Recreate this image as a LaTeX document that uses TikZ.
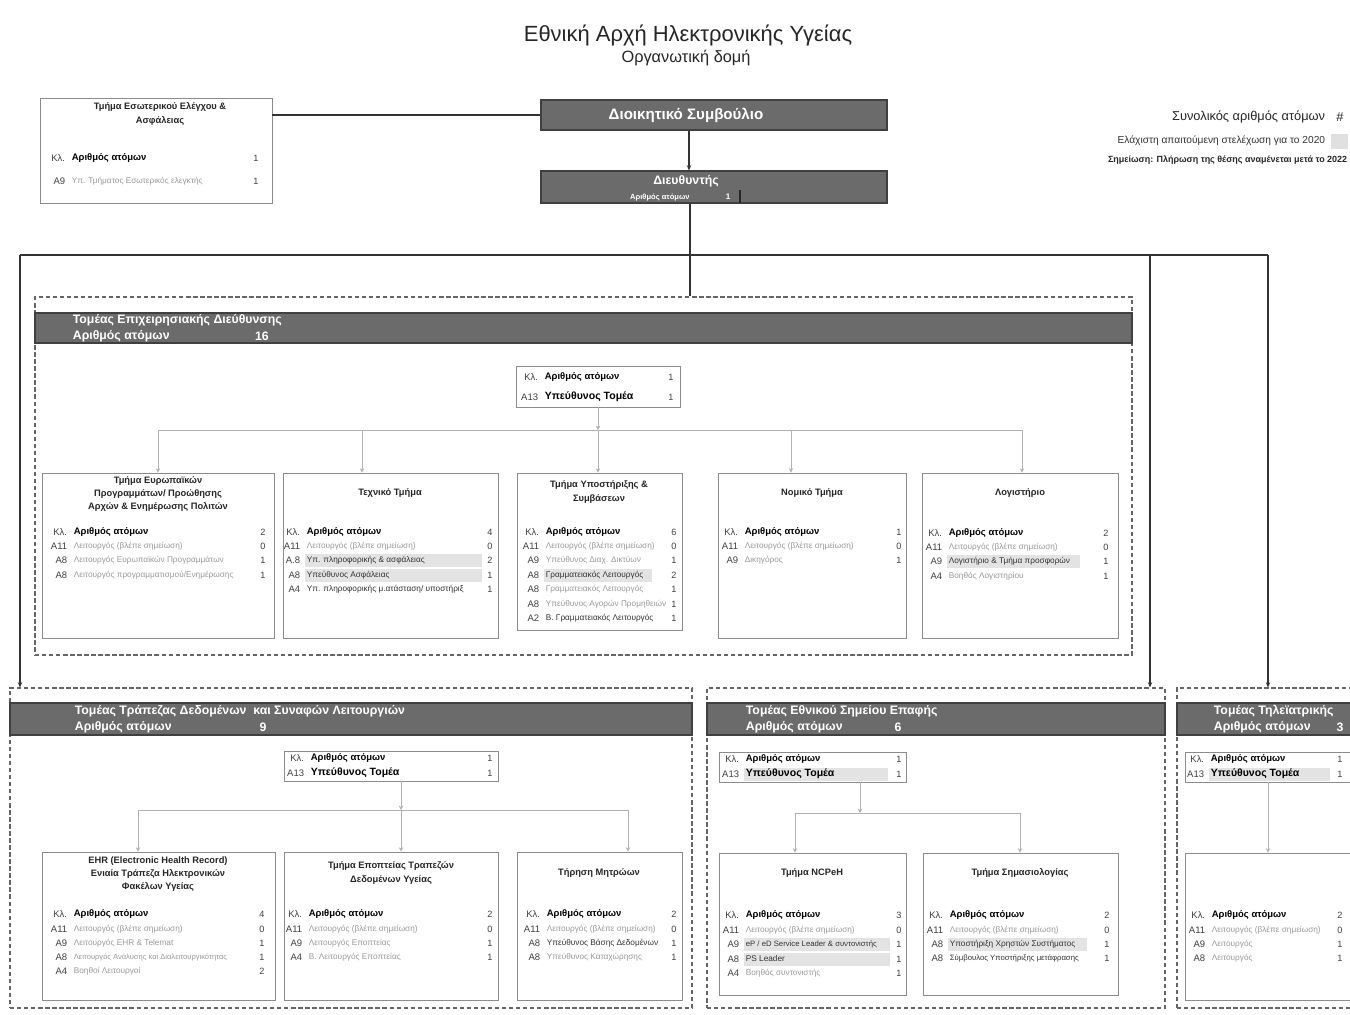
\documentclass[tikz,border=0pt]{standalone}
\usepackage{fontspec}
\setmainfont{Liberation Sans}
\usetikzlibrary{fit,arrows.meta}
\tikzset{
  box/.style={draw=black!45,line width=0.5pt,inner sep=0pt},
  cbox/.style={draw=black!45,line width=0.45pt,inner sep=0pt},
  sector/.style={draw=black!60,line width=0.6pt,dash pattern=on 2.5pt off 1.5pt,inner sep=0pt},
  bar/.style={fill=black!58,draw=black!75,line width=0.6pt,inner sep=0pt},
  kl/.style={font=\fontsize{5.4}{6}\selectfont\bfseries,text=black,inner sep=0.3pt},
  kltwo/.style={font=\fontsize{6}{7}\selectfont\bfseries,text=black,inner sep=0.3pt},
  code/.style={font=\fontsize{5.4}{6}\selectfont,text=black!75,inner sep=0.3pt},
  rf/.style={font=\fontsize{4.7}{6}\selectfont,text=black!40,inner sep=0.3pt},
  rd/.style={font=\fontsize{4.7}{6}\selectfont,text=black!80,inner sep=0.3pt},
  num/.style={font=\fontsize{5.2}{6}\selectfont,text=black!75,inner sep=0.3pt},
  btitle/.style={font=\fontsize{5.3}{7.6}\selectfont\bfseries,align=center,text=black!85,inner sep=0pt},
  htitle/.style={font=\fontsize{7}{8}\selectfont\bfseries,text=white,inner sep=0.3pt},
  conn/.style={draw=black!80,line width=0.6pt},
  connarr/.style={conn,-{Stealth[length=3pt,width=2.5pt]}},
  sub/.style={draw=black!30,line width=0.5pt},
  subarr/.style={sub,-{Stealth[length=2.5pt,width=2.5pt]}},
}
% #1 name, #2 code right x, #3 number x, #4 y, #5 code, #6 style, #7 text, #8 number
\newcommand\rrow[8]{%
  \node[code,anchor=east] (#1c) at (#2,#4) {#5};
  \node[#6,anchor=west] (#1t) at ({#2+5},#4) {#7};
  \node[num] (#1n) at (#3,#4) {#8};}
\newcommand\rshade[3]{\fill[black!11] (#1,{#3-6.5}) rectangle (#2,{#3+6.5});}
\begin{document}
\begin{tikzpicture}[x=0.02cm,y=-0.02cm]
\clip (0,0) rectangle (1350,1015);
\fill[white] (0,0) rectangle (1350,1015);

% Title
\node[font=\fontsize{12.5}{14}\selectfont,text=black!85] (title) at (688,35) {Εθνική Αρχή Ηλεκτρονικής Υγείας};
\node[font=\fontsize{9.3}{11}\selectfont,text=black!85] (subtitle) at (686,58) {Οργανωτική δομή};

% Legend
\node[font=\fontsize{7.3}{8}\selectfont,text=black!85,anchor=east,inner sep=0.3pt] (leg1) at (1326,117) {Συνολικός αριθμός ατόμων};
\node[font=\fontsize{7.3}{8}\selectfont,text=black!85,inner sep=0.3pt] (leg1b) at (1340,117) {\#};
\node[font=\fontsize{5.8}{7}\selectfont,text=black!80,anchor=east,inner sep=0.3pt] (leg2) at (1326,141) {Ελάχιστη απαιτούμενη στελέχωση για το 2020};
\node[fill=black!12,inner sep=0pt,fit={(1331,134) (1348,149)}] (leg2box) {};
\node[font=\fontsize{5.1}{6}\selectfont\bfseries,text=black!85,anchor=east,inner sep=0.3pt] (leg3) at (1348,160) {Σημείωση: Πλήρωση της θέσης αναμένεται μετά το 2022};

% Board and director
\node[bar,fit={(541,100) (887,130)}] (board) {};
\node[font=\fontsize{8.6}{10}\selectfont\bfseries,text=white] (boardt) at (686,115) {Διοικητικό Συμβούλιο};
\node[bar,fit={(541,171) (887,203)}] (dir) {};
\node[font=\fontsize{7}{8}\selectfont\bfseries,text=white] (dirt) at (686,181) {Διευθυντής};
\node[font=\fontsize{4.3}{5}\selectfont\bfseries,text=white,anchor=west] (dirn) at (624,197) {Αριθμός ατόμων};
\node[font=\fontsize{4.6}{5}\selectfont\bfseries,text=white] (dirv) at (728,197) {1};
\draw[black!85,line width=0.6pt] (740,190) -- (740,203);
\draw[connarr] (board.south -| 689,0) -- (dir.north -| 689,0);

% Internal audit box
\node[box,fit={(40,98) (272,203)}] (iac) {};
\node[btitle] (iact) at (160,114) {Τμήμα Εσωτερικού Ελέγχου \&\\Ασφάλειας};
\rrow{iar1}{66}{256}{158}{Κλ.}{kl}{Αριθμός ατόμων}{1}
\rrow{iar2}{66}{256}{181}{Α9}{rf}{Υπ. Τμήματος Εσωτερικός ελεγκτής}{1}
\draw[conn] (board.west) -- (board.west -| iac.east);

% Sectors frames
\node[sector,fit={(35,297) (1132,655)}] (sec1) {};
\node[sector,fit={(10,688) (692,1008)}] (sec2) {};
\node[sector,fit={(707,688) (1165,1008)}] (sec3) {};
\node[sector,fit={(1177,688) (1365,1008)}] (sec4) {};

% Main connectors
\coordinate (jt) at (690,255);
\coordinate (jl) at (20,255);
\coordinate (jr3) at (1150,255);
\coordinate (jr4) at (1268,255);
\draw[conn] (dir.south -| jt) -- (sec1.north -| jt);
\draw[conn] (jl) -- (jr4);
\draw[connarr] (jl) -- (jl |- sec2.north);
\draw[connarr] (jr3) -- (jr3 |- sec3.north);
\draw[connarr] (jr4) -- (jr4 |- sec4.north);

% ===== Sector 1
\node[bar,fit={(35,313) (1132,343)}] (h1) {};
\node[htitle,anchor=west] (h1a) at (72,320) {Τομέας Επιχειρησιακής Διεύθυνσης};
\node[htitle,anchor=west] (h1b) at (72,336) {Αριθμός ατόμων};
\node[htitle] (h1c) at (262,336) {16};

\node[cbox,fit={(516,366) (680,407)}] (c1) {};
\rrow{c1r1}{539}{671}{377}{Κλ.}{kl}{Αριθμός ατόμων}{1}
\rrow{c1r2}{539}{671}{397}{Α13}{kltwo}{Υπεύθυνος Τομέα}{1}

\node[box,fit={(42,473) (274,638)}] (b1) {};
\node[box,fit={(283,473) (498,638)}] (b2) {};
\node[box,fit={(517,473) (682,630)}] (b3) {};
\node[box,fit={(718,473) (906,638)}] (b4) {};
\node[box,fit={(922,473) (1118,638)}] (b5) {};

\coordinate (s1j) at (598,430);
\coordinate (s1a) at (158,430);
\coordinate (s1b) at (362,430);
\coordinate (s1d) at (791,430);
\coordinate (s1e) at (1022,430);
\draw[subarr] (c1.south -| s1j) -- (s1j);
\draw[sub] (s1a) -- (s1e);
\draw[subarr] (s1a) -- (s1a |- b1.north);
\draw[subarr] (s1b) -- (s1b |- b2.north);
\draw[subarr] (s1j) -- (s1j |- b3.north);
\draw[subarr] (s1d) -- (s1d |- b4.north);
\draw[subarr] (s1e) -- (s1e |- b5.north);

\node[btitle] (b1t) at (158,494) {Τμήμα Ευρωπαϊκών\\Προγραμμάτων/ Προώθησης\\Αρχών \& Ενημέρωσης Πολιτών};
\rrow{b1r1}{68}{263}{532}{Κλ.}{kl}{Αριθμός ατόμων}{2}
\rrow{b1r2}{68}{263}{546}{Α11}{rf}{Λειτουργός (βλέπε σημείωση)}{0}
\rrow{b1r3}{68}{263}{560}{Α8}{rf}{Λειτουργός Ευρωπαϊκών Προγραμμάτων}{1}
\rrow{b1r4}{68}{263}{575}{Α8}{rf}{Λειτουργός προγραμματισμού/Ενημέρωσης}{1}

\node[btitle] (b2t) at (390,493) {Τεχνικό Τμήμα};
\rshade{305}{482}{560}
\rshade{305}{482}{575}
\rrow{b2r1}{301}{490}{532}{Κλ.}{kl}{Αριθμός ατόμων}{4}
\rrow{b2r2}{301}{490}{546}{Α11}{rf}{Λειτουργός (βλέπε σημείωση)}{0}
\rrow{b2r3}{301}{490}{560}{Α.8}{rd}{Υπ. πληροφορικής \& ασφάλειας}{2}
\rrow{b2r4}{301}{490}{575}{Α8}{rd}{Υπεύθυνος Ασφάλειας}{1}
\rrow{b2r5}{301}{490}{589}{Α4}{rd}{Υπ. πληροφορικής μ.ατάσταση/ υποστήριξ}{1}

\node[btitle] (b3t) at (599,492) {Τμήμα Υποστήριξης \&\\Συμβάσεων};
\rshade{544}{652}{575}
\rrow{b3r1}{540}{674}{532}{Κλ.}{kl}{Αριθμός ατόμων}{6}
\rrow{b3r2}{540}{674}{546}{Α11}{rf}{Λειτουργός (βλέπε σημείωση)}{0}
\rrow{b3r3}{540}{674}{560}{Α9}{rf}{Υπεύθυνος Διαχ. Δικτύων}{1}
\rrow{b3r4}{540}{674}{575}{Α8}{rd}{Γραμματειακός Λειτουργός}{2}
\rrow{b3r5}{540}{674}{589}{Α8}{rf}{Γραμματειακός Λειτουργός}{1}
\rrow{b3r6}{540}{674}{604}{Α8}{rf}{Υπεύθυνος Αγορών Προμηθειών}{1}
\rrow{b3r7}{540}{674}{618}{Α2}{rd}{Β. Γραμματειακός Λειτουργός}{1}

\node[btitle] (b4t) at (812,493) {Νομικό Τμήμα};
\rrow{b4r1}{739}{899}{532}{Κλ.}{kl}{Αριθμός ατόμων}{1}
\rrow{b4r2}{739}{899}{546}{Α11}{rf}{Λειτουργός (βλέπε σημείωση)}{0}
\rrow{b4r3}{739}{899}{560}{Α9}{rf}{Δικηγόρος}{1}

\node[btitle] (b5t) at (1020,493) {Λογιστήριο};
\rshade{947}{1080}{561}
\rrow{b5r1}{943}{1106}{533}{Κλ.}{kl}{Αριθμός ατόμων}{2}
\rrow{b5r2}{943}{1106}{547}{Α11}{rf}{Λειτουργός (βλέπε σημείωση)}{0}
\rrow{b5r3}{943}{1106}{561}{Α9}{rd}{Λογιστήριο \& Τμήμα προσφορών}{1}
\rrow{b5r4}{943}{1106}{576}{Α4}{rf}{Βοηθός Λογιστηρίου}{1}

% ===== Sector 2
\node[bar,fit={(10,703) (692,735)}] (h2) {};
\node[htitle,anchor=west] (h2a) at (74,711) {Τομέας Τράπεζας Δεδομένων \ και Συναφών Λειτουργιών};
\node[htitle,anchor=west] (h2b) at (74,727) {Αριθμός ατόμων};
\node[htitle] (h2c) at (263,727) {9};

\node[cbox,fit={(284,751) (498,781)}] (c2) {};
\rrow{c2r1}{305}{490}{758}{Κλ.}{kl}{Αριθμός ατόμων}{1}
\rrow{c2r2}{305}{490}{773}{Α13}{kltwo}{Υπεύθυνος Τομέα}{1}

\node[box,fit={(42,852) (275,1000)}] (e1) {};
\node[box,fit={(284,852) (498,1000)}] (e2) {};
\node[box,fit={(517,852) (682,1000)}] (e3) {};

\coordinate (s2j) at (401,810);
\coordinate (s2a) at (138,810);
\coordinate (s2c) at (628,810);
\draw[subarr] (c2.south -| s2j) -- (s2j);
\draw[sub] (s2a) -- (s2c);
\draw[subarr] (s2a) -- (s2a |- e1.north);
\draw[subarr] (s2j) -- (s2j |- e2.north);
\draw[subarr] (s2c) -- (s2c |- e3.north);

\node[btitle] (e1t) at (158,874) {EHR (Electronic Health Record)\\Ενιαία Τράπεζα Ηλεκτρονικών\\Φακέλων Υγείας};
\rrow{e1r1}{68}{262}{914}{Κλ.}{kl}{Αριθμός ατόμων}{4}
\rrow{e1r2}{68}{262}{929}{Α11}{rf}{Λειτουργός (βλέπε σημείωση)}{0}
\rrow{e1r3}{68}{262}{943}{Α9}{rf}{Λειτουργός EHR \& Telemat}{1}
\rrow{e1r4}{68}{262}{957}{Α8}{rf}{\fontsize{4.3}{5}\selectfont Λειτουργός Ανάλυσης και Διαλειτουργικότητας}{1}
\rrow{e1r5}{68}{262}{971}{Α4}{rf}{Βοηθοί Λειτουργοί}{2}

\node[btitle] (e2t) at (391,873) {Τμήμα Εποπτείας Τραπεζών\\Δεδομένων Υγείας};
\rrow{e2r1}{303}{490}{914}{Κλ.}{kl}{Αριθμός ατόμων}{2}
\rrow{e2r2}{303}{490}{929}{Α11}{rf}{Λειτουργός (βλέπε σημείωση)}{0}
\rrow{e2r3}{303}{490}{943}{Α9}{rf}{Λειτουργός Εποπτείας}{1}
\rrow{e2r4}{303}{490}{957}{Α4}{rf}{Β. Λειτουργός Εποπτείας}{1}

\node[btitle] (e3t) at (599,873) {Τήρηση Μητρώων};
\rrow{e3r1}{541}{674}{914}{Κλ.}{kl}{Αριθμός ατόμων}{2}
\rrow{e3r2}{541}{674}{929}{Α11}{rf}{Λειτουργός (βλέπε σημείωση)}{0}
\rrow{e3r3}{541}{674}{943}{Α8}{rd}{Υπεύθυνος Βάσης Δεδομένων}{1}
\rrow{e3r4}{541}{674}{957}{Α8}{rf}{Υπεύθυνος Καταχώρησης}{1}

% ===== Sector 3
\node[bar,fit={(707,703) (1165,735)}] (h3) {};
\node[htitle,anchor=west] (h3a) at (745,711) {Τομέας Εθνικού Σημείου Επαφής};
\node[htitle,anchor=west] (h3b) at (745,727) {Αριθμός ατόμων};
\node[htitle] (h3c) at (898,727) {6};

\node[cbox,fit={(719,752) (906,782)}] (c3) {};
\rshade{744}{888}{774}
\rrow{c3r1}{740}{899}{759}{Κλ.}{kl}{Αριθμός ατόμων}{1}
\rrow{c3r2}{740}{899}{774}{Α13}{kltwo}{Υπεύθυνος Τομέα}{1}

\node[box,fit={(719,853) (906,995)}] (d1) {};
\node[box,fit={(923,853) (1118,995)}] (d2) {};

\coordinate (s3j) at (860,813);
\coordinate (s3a) at (795,813);
\coordinate (s3b) at (1020,813);
\draw[subarr] (c3.south -| s3j) -- (s3j);
\draw[sub] (s3a) -- (s3b);
\draw[subarr] (s3a) -- (s3a |- d1.north);
\draw[subarr] (s3b) -- (s3b |- d2.north);

\node[btitle] (d1t) at (812,873) {Τμήμα NCPeH};
\rshade{744}{890}{944}
\rshade{744}{890}{959}
\rrow{d1r1}{740}{899}{915}{Κλ.}{kl}{Αριθμός ατόμων}{3}
\rrow{d1r2}{740}{899}{930}{Α11}{rf}{Λειτουργός (βλέπε σημείωση)}{0}
\rrow{d1r3}{740}{899}{944}{Α9}{rd}{\fontsize{4.4}{5}\selectfont eP / eD Service Leader \& συντονιστής}{1}
\rrow{d1r4}{740}{899}{959}{Α8}{rd}{PS Leader}{1}
\rrow{d1r5}{740}{899}{973}{Α4}{rf}{Βοηθός συντονιστής}{1}

\node[btitle] (d2t) at (1020,873) {Τμήμα Σημασιολογίας};
\rshade{948}{1087}{944}
\rrow{d2r1}{944}{1107}{915}{Κλ.}{kl}{Αριθμός ατόμων}{2}
\rrow{d2r2}{944}{1107}{930}{Α11}{rf}{Λειτουργός (βλέπε σημείωση)}{0}
\rrow{d2r3}{944}{1107}{944}{Α8}{rd}{Υποστήριξη Χρηστών Συστήματος}{1}
\rrow{d2r4}{944}{1107}{958}{Α8}{rd}{\fontsize{4.4}{5}\selectfont Σύμβουλος Υποστήριξης μετάφρασης}{1}

% ===== Sector 4
\node[bar,fit={(1177,703) (1365,735)}] (h4) {};
\node[htitle,anchor=west] (h4a) at (1213,711) {Τομέας Τηλεϊατρικής};
\node[htitle,anchor=west] (h4b) at (1213,727) {Αριθμός ατόμων};
\node[htitle] (h4c) at (1340,727) {3};

\node[cbox,fit={(1185,752) (1365,782)}] (c4) {};
\rshade{1209}{1330}{774}
\rrow{c4r1}{1205}{1340}{759}{Κλ.}{kl}{Αριθμός ατόμων}{1}
\rrow{c4r2}{1205}{1340}{774}{Α13}{kltwo}{Υπεύθυνος Τομέα}{1}

\node[box,fit={(1185,853) (1365,1000)}] (f1) {};
\coordinate (s4j) at (1268,782);
\draw[subarr] (s4j) -- (s4j |- f1.north);
\rrow{f1r1}{1206}{1340}{915}{Κλ.}{kl}{Αριθμός ατόμων}{2}
\rrow{f1r2}{1206}{1340}{930}{Α11}{rf}{Λειτουργός (βλέπε σημείωση)}{0}
\rrow{f1r3}{1206}{1340}{944}{Α9}{rf}{Λειτουργός}{1}
\rrow{f1r4}{1206}{1340}{958}{Α8}{rf}{Λειτουργός}{1}
\end{tikzpicture}
\end{document}
